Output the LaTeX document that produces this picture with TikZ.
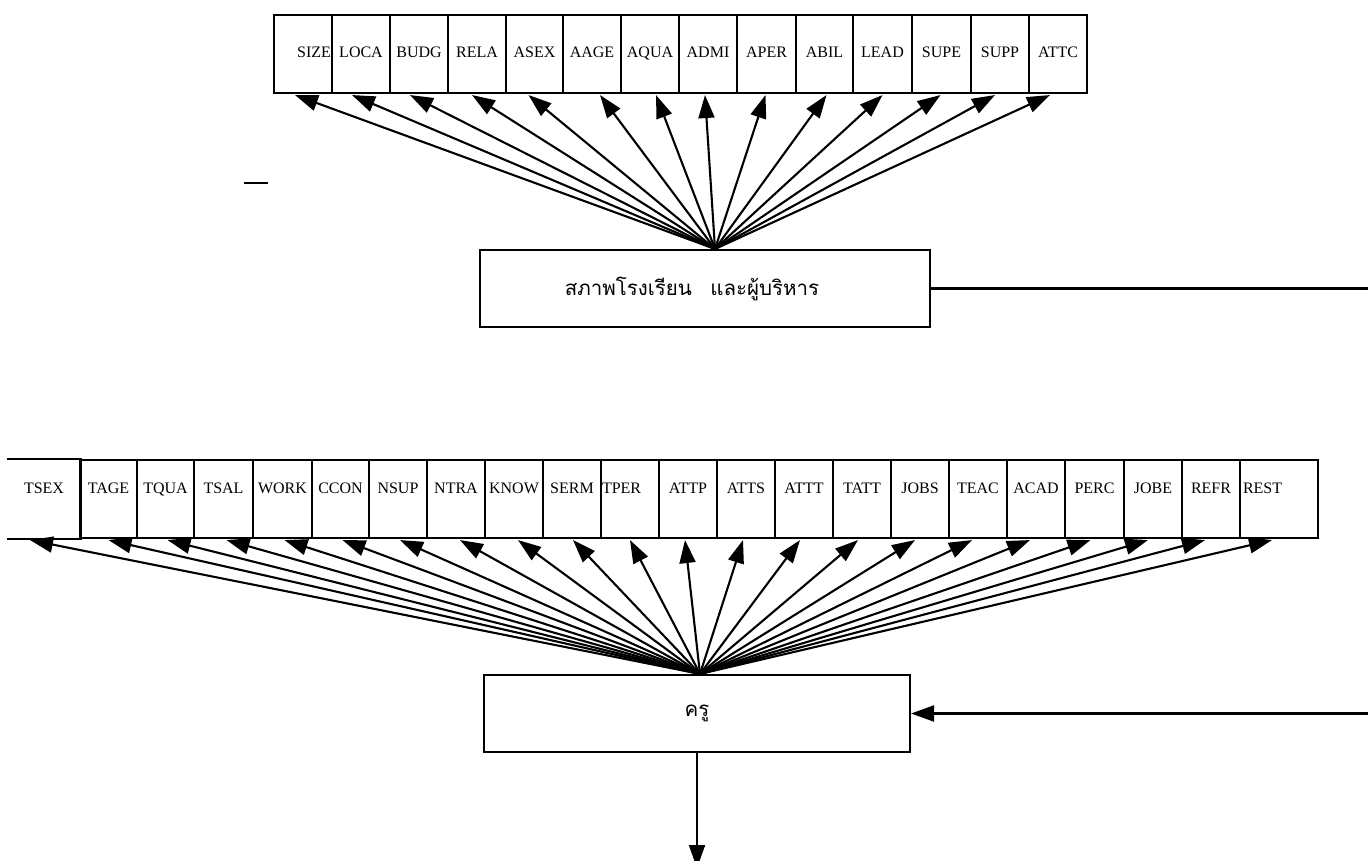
\documentclass[tikz,border=0pt]{standalone}
\usepackage{fontspec}
\setmainfont{Liberation Serif}
\newfontfamily\thaifont[Script=Thai]{Loma}
\usetikzlibrary{arrows.meta}
\begin{document}
\begin{tikzpicture}[x=1pt,y=-1pt,
  line width=2.1pt,
  cell/.style={draw, rectangle, inner sep=0pt, minimum height=78pt, line width=2.1pt,
     font=\fontsize{16}{18}\selectfont, text height=11pt, text depth=4pt},
  lowcell/.style={cell, text depth=22pt},
  bigbox/.style={draw, rectangle, inner sep=0pt, minimum height=77pt, line width=2.1pt,
     font=\thaifont\fontsize{20.5}{24}\selectfont},
  arr/.style={-{Triangle[length=23pt,width=16pt]}, line width=2.1pt},
  plain/.style={line width=2.1pt}
]
\useasboundingbox (0,0) rectangle (1368,861);

% ---------- top row ----------
\node[cell, minimum width=58pt, text width=56pt, align=right] (SIZE) at (303,54) {SIZE};
\node[cell, minimum width=58pt] (LOCA) at (361,54) {LOCA};
\node[cell, minimum width=58pt] (BUDG) at (419,54) {BUDG};
\node[cell, minimum width=58pt] (RELA) at (477,54) {RELA};
\node[cell, minimum width=57pt] (ASEX) at (534.5,54) {ASEX};
\node[cell, minimum width=58pt] (AAGE) at (592,54) {AAGE};
\node[cell, minimum width=58pt] (AQUA) at (650,54) {AQUA};
\node[cell, minimum width=58pt] (ADMI) at (708,54) {ADMI};
\node[cell, minimum width=59pt] (APER) at (766.5,54) {APER};
\node[cell, minimum width=57pt] (ABIL) at (824.5,54) {ABIL};
\node[cell, minimum width=59pt] (LEAD) at (882.5,54) {LEAD};
\node[cell, minimum width=59pt] (SUPE) at (941.5,54) {SUPE};
\node[cell, minimum width=58pt] (SUPP) at (1000,54) {SUPP};
\node[cell, minimum width=58pt] (ATTC) at (1058,54) {ATTC};

% ---------- school box ----------
\node[bigbox, minimum width=450pt] (mid) at (705,288.5) {สภาพโรงเรียน\hspace{0.9em}และผู้บริหาร\hspace*{26pt}};
\coordinate (midout) at (1372,288.5);
\draw[plain] (mid.east) -- (midout);

% top fan
\foreach \n/\dx in {SIZE/-8,LOCA/-9,BUDG/-9,RELA/-5,ASEX/-6,AAGE/8,AQUA/6,ADMI/-3,APER/-1,ABIL/2,LEAD/0,SUPE/-1,SUPP/-5,ATTC/-8}
  \draw[arr] ([xshift=10pt]mid.north) -- ([xshift=\dx pt, yshift=-1pt]\n.south);

% stray mark
\draw[plain] (244,183) -- (268,183);

% ---------- bottom row ----------
\node[lowcell, draw=none, minimum width=72pt] (TSEX) at (44,499) {TSEX};
\draw[plain] (TSEX.north west) -- (TSEX.north east) -- (TSEX.south east) -- (TSEX.south west);
\node[lowcell, minimum width=57pt] (TAGE) at (108.5,499) {TAGE};
\node[lowcell, minimum width=57pt] (TQUA) at (165.5,499) {TQUA};
\node[lowcell, minimum width=59pt] (TSAL) at (223.5,499) {TSAL};
\node[lowcell, minimum width=59pt] (WORK) at (282.5,499) {WORK};
\node[lowcell, minimum width=57pt] (CCON) at (340.5,499) {CCON};
\node[lowcell, minimum width=58pt] (NSUP) at (398,499) {NSUP};
\node[lowcell, minimum width=58pt] (NTRA) at (456,499) {NTRA};
\node[lowcell, minimum width=58pt] (KNOW) at (514,499) {KNOW};
\node[lowcell, minimum width=58pt] (SERM) at (572,499) {SERM};
\node[lowcell, minimum width=58pt, text width=56pt, align=left] (TPER) at (630,499) {TPER};
\node[lowcell, minimum width=58pt] (ATTP) at (688,499) {ATTP};
\node[lowcell, minimum width=58pt] (ATTS) at (746,499) {ATTS};
\node[lowcell, minimum width=58pt] (ATTT) at (804,499) {ATTT};
\node[lowcell, minimum width=58pt] (TATT) at (862,499) {TATT};
\node[lowcell, minimum width=58pt] (JOBS) at (920,499) {JOBS};
\node[lowcell, minimum width=58pt] (TEAC) at (978,499) {TEAC};
\node[lowcell, minimum width=58pt] (ACAD) at (1036,499) {ACAD};
\node[lowcell, minimum width=59pt] (PERC) at (1094.5,499) {PERC};
\node[lowcell, minimum width=58pt] (JOBE) at (1153,499) {JOBE};
\node[lowcell, minimum width=58pt] (REFR) at (1211,499) {REFR};
\node[lowcell, minimum width=78pt, text width=72pt, align=left] (REST) at (1279,499) {REST};

% ---------- teacher box ----------
\node[bigbox, minimum width=426pt] (kru) at (697,713.5) {ครู};
\coordinate (kruin) at (1372,713.5);
\draw[arr] (kruin) -- (kru.east);
\coordinate (out) at (697,868);
\draw[arr] (kru.south) -- (out);

% bottom fan
\foreach \n/\dx in {TSEX/-14,TAGE/0,TQUA/2,TSAL/3,WORK/2,CCON/2,NSUP/2,NTRA/4,KNOW/4,SERM/1,TPER/0,ATTP/-3,ATTS/-3,ATTT/-4,TATT/-4,JOBS/-5,TEAC/-6,ACAD/-6,PERC/-4,JOBE/-5,REFR/-6,REST/-7}
  \draw[arr] ([xshift=3pt]kru.north) -- ([xshift=\dx pt, yshift=-1pt]\n.south);

\end{tikzpicture}
\end{document}
